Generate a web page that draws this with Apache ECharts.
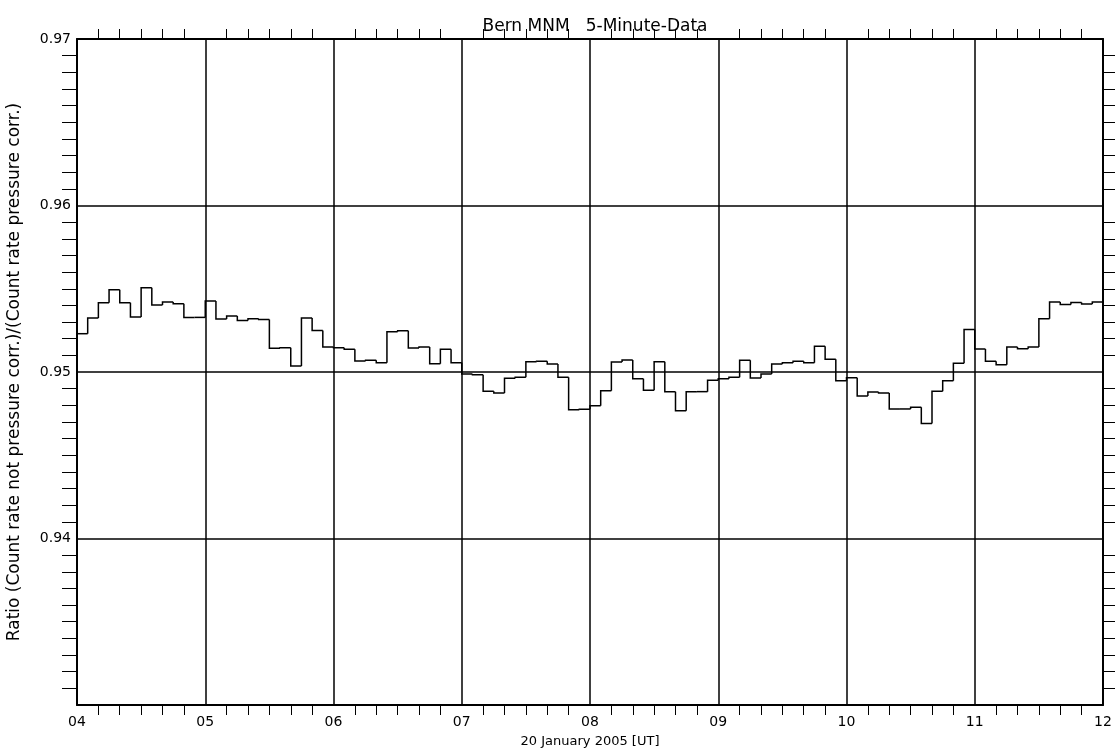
<!DOCTYPE html>
<html>
<head>
<meta charset="utf-8">
<title>Bern MNM 5-Minute-Data</title>
<script src="https://cdn.jsdelivr.net/npm/echarts@6/dist/echarts.min.js"></script>
<style type="text/css">
  html, body { margin: 0; padding: 0; background: #fff; }
  #main { width: 1115px; height: 751px; }
</style>
</head>
<body>
<div id="main"></div>
<script type="text/javascript">
// 5-minute ratios, one row per hour (04 ... 11 UT)
var h04 = [0.95230, 0.95324, 0.95416, 0.95494, 0.95416, 0.95330, 0.95506, 0.95402, 0.95420, 0.95410, 0.95328, 0.95328];
var h05 = [0.95426, 0.95318, 0.95336, 0.95310, 0.95320, 0.95316, 0.95142, 0.95146, 0.95036, 0.95324, 0.95250, 0.95150];
var h06 = [0.95146, 0.95136, 0.95066, 0.95070, 0.95056, 0.95242, 0.95248, 0.95144, 0.95150, 0.95050, 0.95136, 0.95056];
var h07 = [0.94988, 0.94984, 0.94884, 0.94874, 0.94962, 0.94968, 0.95062, 0.95064, 0.95048, 0.94968, 0.94774, 0.94776];
var h08 = [0.94798, 0.94888, 0.95060, 0.95072, 0.94960, 0.94890, 0.95062, 0.94882, 0.94768, 0.94882, 0.94882, 0.94950];
var h09 = [0.94960, 0.94968, 0.95070, 0.94964, 0.94988, 0.95048, 0.95056, 0.95064, 0.95056, 0.95154, 0.95076, 0.94948];
var h10 = [0.94966, 0.94856, 0.94880, 0.94874, 0.94778, 0.94778, 0.94788, 0.94690, 0.94884, 0.94948, 0.95052, 0.95256];
var h11 = [0.95138, 0.95064, 0.95044, 0.95150, 0.95140, 0.95150, 0.95320, 0.95420, 0.95406, 0.95418, 0.95408, 0.95420];

var startHour = 4;
var endHour = 12;
var hourLabels = ['04', '05', '06', '07', '08', '09', '10', '11', '12'];
var yLabels = ['0.94', '0.95', '0.96', '0.97'];

var ratios = [].concat(h04, h05, h06, h07, h08, h09, h10, h11);

// one item per 5 min bin: [bin start, bin end, value, previous value]
var bins = [];
for (var i = 0; i < ratios.length; i++) {
  var prev = i > 0 ? ratios[i - 1] : ratios[i];
  bins.push([startHour + i / 12, startHour + (i + 1) / 12, ratios[i], prev]);
}

var fontFam = 'DejaVu Sans';
var ink = '#000';

function xLab(v) {
  var k = Math.round(v - startHour);
  return hourLabels[k] || '';
}
function yLab(v) {
  var s = v.toFixed(2);
  return yLabels.indexOf(s) >= 0 ? s : '';
}

// draws the histogram outline: vertical riser from previous level, then the flat top
function renderBin(params, api) {
  var a = api.coord([api.value(0), api.value(3)]);
  var b = api.coord([api.value(0), api.value(2)]);
  var c = api.coord([api.value(1), api.value(2)]);
  return {
    type: 'polyline',
    shape: { points: [a, b, c] },
    style: { stroke: ink, lineWidth: 1.5, fill: null }
  };
}

var baseX = {
  type: 'value', min: startHour, max: endHour, interval: 1,
  axisLine: { show: true, onZero: false, lineStyle: { color: ink, width: 2 } },
  axisTick: { show: false },
  minorTick: { show: true, splitNumber: 6, length: 10, lineStyle: { color: ink, width: 1 } },
  splitLine: { show: false }
};
var baseY = {
  type: 'value', min: 0.93, max: 0.97, interval: 0.01,
  axisLine: { show: true, onZero: false, lineStyle: { color: ink, width: 2 } },
  axisTick: { show: false },
  minorTick: { show: true, splitNumber: 10, length: 15, lineStyle: { color: ink, width: 1 } },
  splitLine: { show: false }
};

var myChart = echarts.init(document.getElementById('main'));
var option = {
  backgroundColor: '#fff',
  animation: false,
  title: {
    text: 'Bern MNM   5-Minute-Data',
    left: 590, top: 13, textAlign: 'center',
    textStyle: { fontFamily: fontFam, fontSize: 17, fontWeight: 'normal', color: ink }
  },
  grid: { left: 77, right: 12, top: 39, bottom: 46, outerBoundsMode: 'none', containLabel: false },
  xAxis: [
    Object.assign({}, baseX, {
      position: 'bottom',
      name: '20 January 2005 [UT]', nameLocation: 'middle', nameGap: 30,
      nameTextStyle: { fontFamily: fontFam, fontSize: 13, color: ink },
      axisLabel: { show: true, formatter: xLab, margin: 10, fontFamily: fontFam, fontSize: 14, color: ink },
      splitLine: { show: true, lineStyle: { color: ink, width: 1.5 } }
    }),
    Object.assign({}, baseX, {
      position: 'top',
      axisLabel: { show: false }
    })
  ],
  yAxis: [
    Object.assign({}, baseY, {
      position: 'left',
      name: 'Ratio (Count rate not pressure corr.)/(Count rate pressure corr.)',
      nameLocation: 'middle', nameGap: 54,
      nameTextStyle: { fontFamily: fontFam, fontSize: 17, color: ink },
      axisLabel: { show: true, formatter: yLab, margin: 6, fontFamily: fontFam, fontSize: 14, color: ink },
      splitLine: { show: true, lineStyle: { color: ink, width: 1.5 } }
    }),
    Object.assign({}, baseY, {
      position: 'right',
      axisLabel: { show: false }
    })
  ],
  series: [{
    name: 'ratio',
    type: 'custom',
    xAxisIndex: 0,
    yAxisIndex: 0,
    renderItem: renderBin,
    encode: { x: [0, 1], y: [2, 3] },
    data: bins
  }]
};
myChart.setOption(option);
</script>
</body>
</html>
